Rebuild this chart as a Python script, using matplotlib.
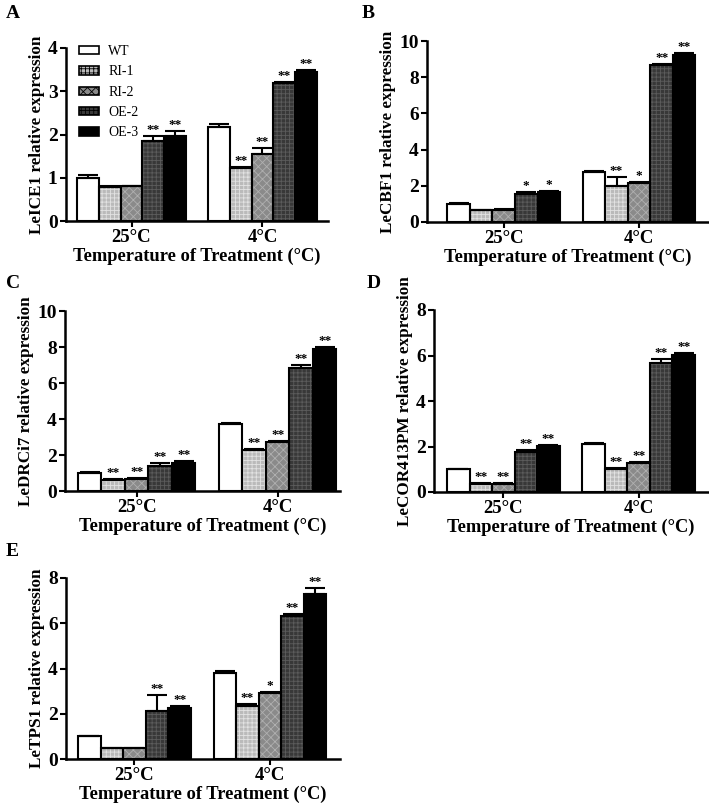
import matplotlib
matplotlib.use("Agg")
import matplotlib.pyplot as plt
import numpy as np
from matplotlib.patches import Patch

plt.rcParams['font.family'] = ['Liberation Serif', 'DejaVu Serif']
plt.rcParams['font.weight'] = 'bold'
plt.rcParams['hatch.linewidth'] = 0.6

groups = ['25°C', '4°C']
lines = ['WT', 'RI-1', 'RI-2', 'OE-2', 'OE-3']

# Panel A: LeICE1
A_25 = [1.00, 0.78, 0.80, 1.85, 1.97]
A_25_err = [0.06, 0.02, 0.02, 0.12, 0.12]
A_4 = [2.18, 1.22, 1.56, 3.19, 3.44]
A_4_err = [0.07, 0.04, 0.13, 0.03, 0.04]
A_25_sig = ['', '', '', '**', '**']
A_4_sig = ['', '**', '**', '**', '**']

# Panel B: LeCBF1
B_25 = [1.01, 0.66, 0.68, 1.54, 1.63]
B_25_err = [0.06, 0.02, 0.02, 0.09, 0.09]
B_4 = [2.75, 2.00, 2.13, 8.68, 9.23]
B_4_err = [0.05, 0.46, 0.09, 0.05, 0.11]
B_25_sig = ['', '', '', '*', '*']
B_4_sig = ['', '**', '*', '**', '**']

# Panel C: LeDRCi7
C_25 = [1.00, 0.61, 0.65, 1.40, 1.57]
C_25_err = [0.03, 0.06, 0.05, 0.13, 0.09]
C_4 = [3.75, 2.27, 2.74, 6.86, 7.91]
C_4_err = [0.04, 0.06, 0.05, 0.16, 0.09]
C_25_sig = ['', '**', '**', '**', '**']
C_4_sig = ['', '**', '**', '**', '**']

# Panel D: LeCOR413PM
D_25 = [1.00, 0.34, 0.34, 1.76, 2.01]
D_25_err = [0.02, 0.06, 0.05, 0.08, 0.05]
D_4 = [2.13, 1.01, 1.28, 5.68, 6.02]
D_4_err = [0.03, 0.05, 0.03, 0.15, 0.10]
D_25_sig = ['', '**', '**', '**', '**']
D_4_sig = ['', '**', '**', '**', '**']

# Panel E: LeTPS1
E_25 = [1.00, 0.47, 0.47, 2.14, 2.26]
E_25_err = [0.02, 0.02, 0.02, 0.68, 0.10]
E_4 = [3.81, 2.36, 2.91, 6.32, 7.31]
E_4_err = [0.06, 0.08, 0.04, 0.10, 0.23]
E_25_sig = ['', '', '', '**', '**']
E_4_sig = ['', '**', '*', '**', '**']

face = ['white', '#bababa', '#8a8a8a', '#383838', 'black']
hatchc = ['white', '#e2e2e2', '#b0b0b0', '#5c5c5c', 'black']
hatches = [None, '++++', 'xxxx', '++++', None]

W, H = 709, 809
fig = plt.figure(figsize=(W / 100, H / 100), dpi=100)


def px_axes(l, r, t, b):
    return fig.add_axes([l / W, 1 - b / H, (r - l) / W, (b - t) / H])


def panel(ax, v25, e25, s25, v4, e4, s4, ymax, ystep, ylabel, xlim):
    for gi, (vals, errs, sigs) in enumerate([(v25, e25, s25), (v4, e4, s4)]):
        for i in range(5):
            x = gi * 6 + i
            ax.bar(x, vals[i], width=1.0, color=face[i], edgecolor=hatchc[i],
                   hatch=hatches[i], linewidth=0, zorder=2)
            ax.bar(x, vals[i], width=1.0, fill=False, edgecolor='black',
                   linewidth=1.5, zorder=3)
            ax.errorbar(x, vals[i], yerr=[[0], [errs[i]]], fmt='none',
                        ecolor='black', elinewidth=1.5, capsize=7, capthick=1.5,
                        zorder=4)
            if sigs[i]:
                ax.annotate(sigs[i], (x, vals[i] + errs[i]), xytext=(0, 0),
                            textcoords='offset points', ha='center',
                            va='bottom', fontsize=9.5, fontweight='bold')
    ax.set_xlim(*xlim)
    ax.set_ylim(0, ymax)
    ax.set_yticks(np.arange(0, ymax + 0.01, ystep))
    ax.set_yticklabels([f'{int(t)}' for t in np.arange(0, ymax + 0.01, ystep)])
    ax.set_xticks([2, 8])
    ax.set_xticklabels(groups)
    for s in ['top', 'right']:
        ax.spines[s].set_visible(False)
    for s in ['left', 'bottom']:
        ax.spines[s].set_linewidth(1.8)
    ax.tick_params(axis='both', direction='out', length=4, width=1.5, pad=2)
    ax.tick_params(axis='x', labelsize=13.5)
    ax.tick_params(axis='y', labelsize=14)
    ax.set_ylabel(ylabel, fontsize=12.3, fontweight='bold', labelpad=2)
    ax.set_xlabel('Temperature of Treatment (°C)', fontsize=13.3,
                  fontweight='bold', labelpad=1)


axA = px_axes(66, 328, 48, 221)
panel(axA, A_25, A_25_err, A_25_sig, A_4, A_4_err, A_4_sig, 4, 1,
      'LeICE1 relative expression', (-1.0, 11.0))
handles = [Patch(facecolor=face[i], edgecolor='black', linewidth=1.2,
                 hatch=hatches[i]) for i in range(5)]
leg = axA.legend(handles, lines, loc='upper left', bbox_to_anchor=(0.0, 1.09),
                 frameon=False, handlelength=1.45, handleheight=0.55,
                 labelspacing=0.53, handletextpad=0.7,
                 prop={'weight': 'normal', 'size': 10})
leg.set_zorder(10)

axB = px_axes(427, 709, 41, 222)
panel(axB, B_25, B_25_err, B_25_sig, B_4, B_4_err, B_4_sig, 10, 2,
      'LeCBF1 relative expression', (-1.4, 11.1))

axC = px_axes(65, 340, 311, 491)
panel(axC, C_25, C_25_err, C_25_sig, C_4, C_4_err, C_4_sig, 10, 2,
      'LeDRCi7 relative expression', (-1.05, 10.65))

axD = px_axes(434, 708, 310, 492)
panel(axD, D_25, D_25_err, D_25_sig, D_4, D_4_err, D_4_sig, 8, 2,
      'LeCOR413PM relative expression', (-1.08, 11.08))

axE = px_axes(66, 340, 578, 759)
panel(axE, E_25, E_25_err, E_25_sig, E_4, E_4_err, E_4_sig, 8, 2,
      'LeTPS1 relative expression', (-1.03, 11.1))

for lab, (x, y) in zip('ABCDE', [(6, 14), (362, 14), (6, 283), (367, 283), (6, 551)]):
    fig.text(x / W, 1 - y / H, lab, fontsize=14, fontweight='bold',
             ha='left', va='center')

fig.savefig('out.png', dpi=100)
